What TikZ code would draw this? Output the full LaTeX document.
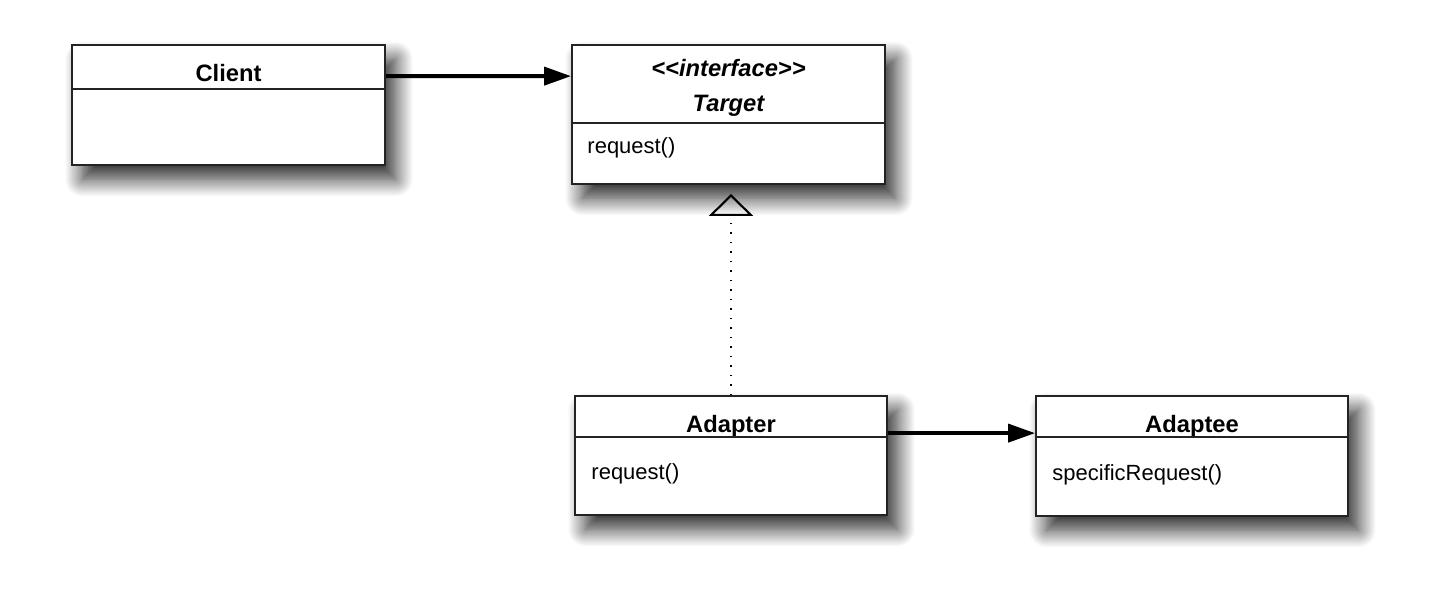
\documentclass[tikz,border=0pt]{standalone}
\usepackage{fontspec}
\setmainfont{Liberation Sans}
\usepackage{tikz}
\usetikzlibrary{arrows.meta,positioning,shadows.blur}
\definecolor{boxline}{RGB}{35,35,35}

\begin{document}
\begin{tikzpicture}[
  every node/.style={font=\fontsize{12.5}{15}\selectfont},
  umlbox/.style={draw=boxline, line width=1pt, fill=white,
    minimum width=6.26cm, inner sep=0pt,
    blur shadow={shadow xshift=6pt, shadow yshift=-8pt,
      shadow blur radius=10pt, shadow blur steps=20, shadow opacity=85}},
  classname/.style={font=\fontsize{13.5}{16}\selectfont\bfseries, anchor=base, inner sep=0pt},
  method/.style={anchor=base west, inner sep=0pt},
  divider/.style={draw=boxline, line width=0.8pt},
  assoc/.style={-{Triangle[length=0.54cm,width=0.36cm]}, line width=2.2pt},
  realize/.style={-{Triangle[open,length=0.44cm,width=0.88cm,line width=1.2pt]},
    dash pattern=on 0.9pt off 4.5pt, line width=0.9pt}
]

\useasboundingbox (0,0) rectangle (28.8,-11.94);

% --- Osztályok ---

% Kliens
\node[umlbox, minimum height=2.40cm] (client) at (4.57,-2.10) {};
\node[classname] (clientName) at ([yshift=-0.74cm]client.north) {Client};
\draw[divider] ([yshift=-0.90cm]client.north west) -- ([yshift=-0.90cm]client.north east);

% Cél interfész
\node[umlbox, minimum height=2.78cm] (target) at (14.57,-2.29) {};
\node[classname] (targetStereo) at ([yshift=-0.64cm]target.north) {\itshape <{}<interface>{}>};
\node[classname] (targetName) at ([yshift=-1.34cm]target.north) {\itshape Target};
\draw[divider] ([yshift=-1.58cm]target.north west) -- ([yshift=-1.58cm]target.north east);
\node[method] (targetOp) at ([xshift=0.32cm,yshift=-2.18cm]target.north west) {request()};

% Adapter
\node[umlbox, minimum height=2.38cm, minimum width=6.24cm] (adapter) at (14.62,-9.11) {};
\node[classname] (adapterName) at ([yshift=-0.74cm]adapter.north) {Adapter};
\draw[divider] ([yshift=-0.84cm]adapter.north west) -- ([yshift=-0.84cm]adapter.north east);
\node[method] (adapterOp) at ([xshift=0.34cm,yshift=-1.68cm]adapter.north west) {request()};

% Adaptee
\node[umlbox, minimum height=2.40cm, minimum width=6.24cm] (adaptee) at (23.84,-9.12) {};
\node[classname] (adapteeName) at ([yshift=-0.74cm]adaptee.north) {Adaptee};
\draw[divider] ([yshift=-0.84cm]adaptee.north west) -- ([yshift=-0.84cm]adaptee.north east);
\node[method] (adapteeOp) at ([xshift=0.34cm,yshift=-1.70cm]adaptee.north west) {specificRequest()};

% --- Kapcsolatok ---

% Asszociációk
\draw[assoc] ([yshift=-0.64cm]client.north east) -- ([yshift=-0.64cm]target.north west);
\draw[assoc] ([yshift=-0.76cm]adapter.north east) -- ([yshift=-0.76cm]adaptee.north west);

% Megvalósítás (szaggatott vonal, üres háromszög)
\draw[realize, shorten >=0.18cm] (adapter.north) -- (adapter.north |- target.south);

\end{tikzpicture}
\end{document}
